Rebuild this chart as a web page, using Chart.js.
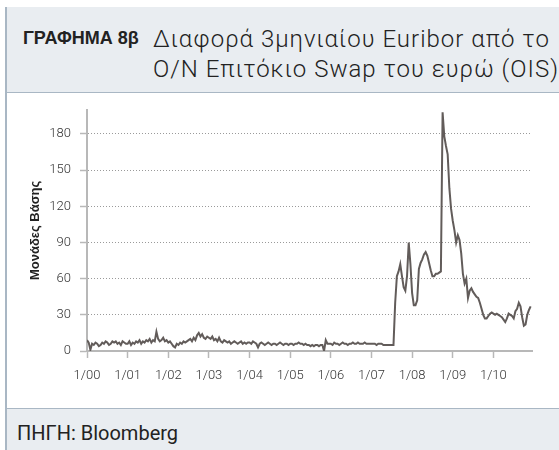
<!DOCTYPE html>
<html>
<head>
<meta charset="UTF-8">
<title>Euribor - OIS</title>
<script src="https://cdn.jsdelivr.net/npm/chart.js@4.4.0/dist/chart.umd.min.js"></script>
<style>
  body { margin: 0; background: #fff; }
  #page { position: relative; width: 559px; height: 450px; overflow: hidden; font-family: Roboto, "Noto Sans", sans-serif; }
  #head { position: absolute; top: 7px; left: 6px; right: 0; height: 85px; background: #e9edf1; border-bottom: 1px solid #a9b7c4; }
  #tag { position: absolute; left: 17px; top: 20px; font: bold 18px/22px "Liberation Sans", Arial, sans-serif; color: #222; }
  #ttl { position: absolute; left: 147px; top: 17px; font-size: 24px; font-weight: 300; letter-spacing: 1px; line-height: 30px; color: #222; white-space: nowrap; }
  #foot { position: absolute; top: 408px; left: 6px; right: 0; bottom: 0; background: #e9edf1; border-top: 1px solid #a9b7c4; }
  #src { position: absolute; left: 11px; top: 12px; font-size: 20px; line-height: 24px; color: #222; }
  #edge { position: absolute; left: 5px; top: 7px; bottom: 0; width: 2px; background: #a9b7c4; z-index: 3; }
  #holder { position: absolute; left: 0; top: 93px; width: 559px; height: 315px; }
</style>
</head>
<body>
<div id="page">
  <div id="head">
    <div id="tag">ΓΡΑΦΗΜΑ 8β</div>
    <div id="ttl">Διαφορά 3μηνιαίου Euribor από το<br>O/N Επιτόκιο Swap του ευρώ (OIS)</div>
  </div>
  <div id="holder"><canvas id="chart"></canvas></div>
  <div id="foot"><div id="src">ΠΗΓΗ: Bloomberg</div></div>
  <div id="edge"></div>
</div>
<script>
// spread in basis points, two readings per month (1st and 16th)
var y2000 = [9, 7, 1, 6, 5, 7, 6, 4, 5, 7, 6, 8, 7, 5, 6, 8, 7, 8, 6, 7, 5, 8, 7, 6];
var y2001 = [6, 8, 5, 7, 6, 8, 7, 9, 6, 8, 7, 9, 8, 10, 7, 9, 8, 16, 10, 8, 9, 11, 8, 9];
var y2002 = [7, 8, 6, 4, 3, 6, 5, 7, 6, 8, 7, 8, 9, 10, 8, 11, 9, 13, 15, 12, 14, 11, 10, 12];
var y2003 = [11, 10, 12, 9, 10, 8, 11, 8, 7, 9, 8, 7, 8, 6, 7, 8, 7, 6, 7, 8, 6, 7, 6, 7];
var y2004 = [7, 6, 8, 7, 6, 3, 6, 7, 6, 5, 6, 7, 6, 5, 6, 6, 5, 6, 7, 6, 5, 6, 6, 5];
var y2005 = [6, 6, 5, 6, 6, 7, 6, 6, 5, 6, 5, 5, 4, 5, 4, 5, 5, 4, 5, 5, 0, 9, 6, 6];
var y2006 = [6, 5, 7, 6, 6, 5, 6, 7, 6, 6, 5, 6, 6, 7, 6, 6, 7, 6, 6, 6, 7, 6, 6, 6];
var y2007 = [6, 6, 6, 5, 6, 6, 6, 5, 5, 5, 5, 5, 5, 5, 40, 62, 66, 72, 62, 53, 50, 62, 90, 72];
var y2008 = [48, 38, 38, 42, 68, 73, 76, 80, 82, 79, 73, 67, 62, 62, 64, 64, 65, 66, 198, 178, 170, 163, 135, 118];
var y2009 = [108, 100, 90, 96, 92, 81, 64, 56, 60, 44, 50, 52, 49, 47, 45, 44, 40, 35, 30, 27, 27, 29, 31, 32];
var y2010 = [31, 30, 31, 30, 29, 28, 26, 24, 27, 31, 30, 29, 27, 33, 35, 40, 37, 28, 21, 22, 30, 34, 37];

var years = [2000, 2001, 2002, 2003, 2004, 2005, 2006, 2007, 2008, 2009, 2010];
var yearValues = [y2000, y2001, y2002, y2003, y2004, y2005, y2006, y2007, y2008, y2009, y2010];
var yTicks = [0, 30, 60, 90, 120, 150, 180];

var points = [];
years.forEach(function(yr, k) {
  yearValues[k].forEach(function(v, i) {
    points.push({ x: yr + i / 24, y: v });
  });
});

var tickFont = { family: 'Roboto', size: 13, weight: 300 };

new Chart(document.getElementById('chart'), {
  type: 'line',
  data: {
    datasets: [{
      data: points,
      borderColor: '#625c5a',
      borderWidth: 2,
      pointRadius: 0,
      tension: 0
    }]
  },
  options: {
    responsive: true,
    maintainAspectRatio: false,
    animation: false,
    layout: { padding: { left: 0, right: 27, top: 5, bottom: 0 } },
    plugins: { legend: { display: false }, tooltip: { enabled: false } },
    scales: {
      x: {
        type: 'linear',
        min: 2000,
        max: 2010.95,
        afterFit: function(s) { s.height = 57; },
        border: { color: '#b8b8b8', width: 2 },
        grid: { drawOnChartArea: false, drawTicks: true, tickLength: 7, tickColor: '#b8b8b8', tickWidth: 1.5 },
        ticks: {
          stepSize: 1,
          includeBounds: false,
          padding: 10,
          color: '#333',
          font: tickFont,
          maxRotation: 0,
          callback: function(v) { return '1/' + String(v).slice(2); }
        }
      },
      y: {
        min: 0,
        max: 200,
        afterFit: function(s) { s.width = 87; },
        afterBuildTicks: function(s) { s.ticks = yTicks.map(function(v) { return { value: v }; }); },
        border: { color: '#b8b8b8', width: 2, dash: [1, 2] },
        grid: {
          color: function(c) { return c.tick && c.tick.value === 0 ? 'rgba(0,0,0,0)' : '#9a9a9a'; },
          lineWidth: 1,
          tickLength: 7,
          tickColor: '#b8b8b8',
          tickWidth: 1.5
        },
        ticks: { padding: 9, color: '#333', font: tickFont },
        title: {
          display: true,
          text: 'Μονάδες Βάσης',
          color: '#222',
          font: { family: '"Liberation Sans", Arial, sans-serif', size: 13, weight: 'bold' },
          padding: { top: 28, bottom: 0 }
        }
      }
    }
  }
});
</script>
</body>
</html>
